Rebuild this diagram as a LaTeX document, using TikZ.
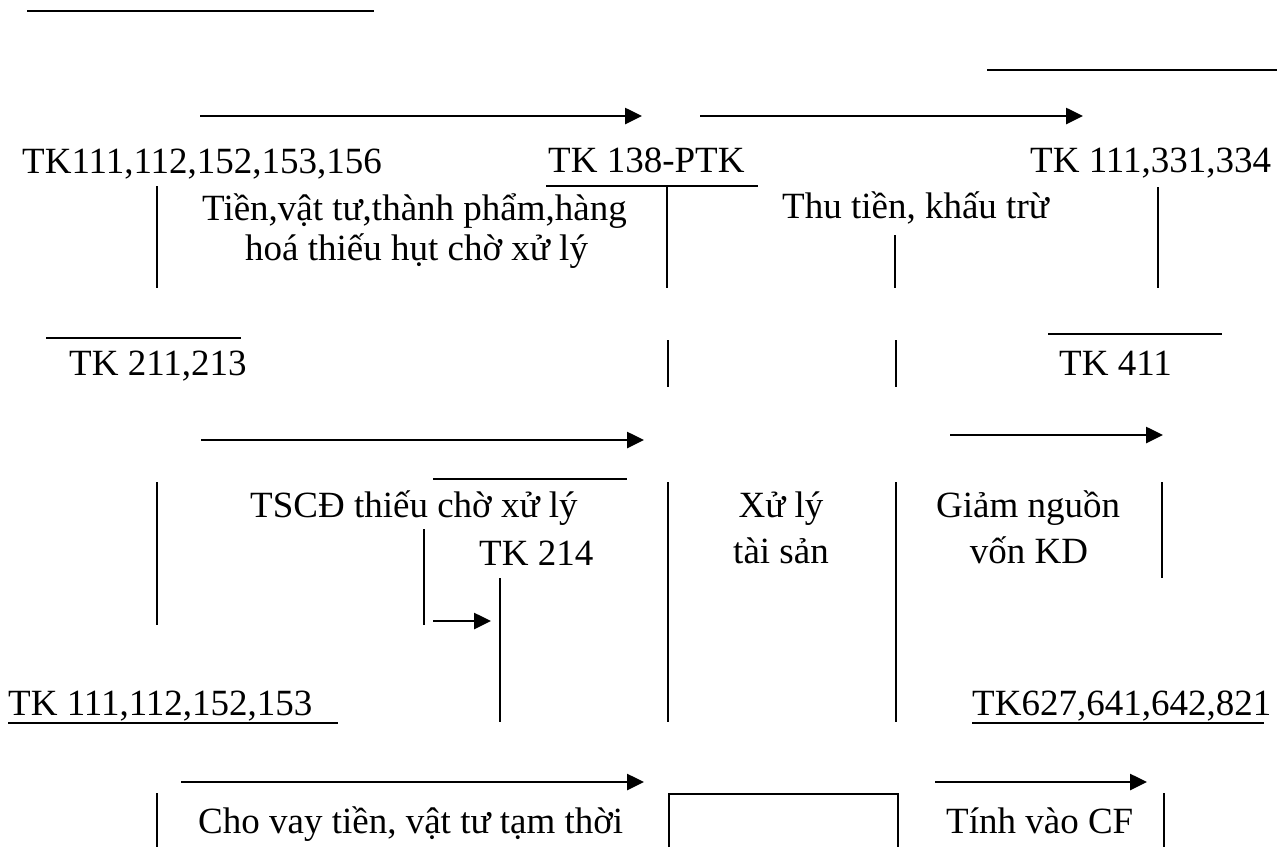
\documentclass[tikz,border=0pt]{standalone}
\usepackage{fontspec}
\setmainfont{Liberation Serif}
\usetikzlibrary{arrows.meta}
\begin{document}
\begin{tikzpicture}[x=1pt,y=-1pt,
  ln/.style={line width=2.6pt},
  arr/.style={line width=2.6pt,-{Triangle[length=17pt,width=16pt]}},
  lbl/.style={inner sep=0pt,anchor=base west,font=\fontsize{37}{44}\selectfont},
  lblc/.style={inner sep=0pt,anchor=base,font=\fontsize{37}{44}\selectfont}]
\useasboundingbox (0,0) rectangle (1285,847);

% ---- texts
\node[lbl] (t1) at (22,173) {TK111,112,152,153,156};
\node[lbl] (t138) at (548,172) {TK 138-PTK};
\node[lbl] (t111b) at (1030,172) {TK 111,331,334};
\node[lbl] (d1a) at (202,220) {Tiền,vật tư,thành phẩm,hàng};
\node[lbl] (d1b) at (245,260) {hoá thiếu hụt chờ xử lý};
\node[lbl] (d2) at (782,218) {Thu tiền, khấu trừ};
\node[lbl] (t211) at (69,375) {TK 211,213};
\node[lbl] (t411) at (1059,375) {TK 411};
\node[lbl] (d3) at (250,517) {TSCĐ thiếu chờ xử lý};
\node[lbl] (t214) at (479,565) {TK 214};
\node[lblc] (d4a) at (781,517) {Xử lý};
\node[lblc] (d4b) at (781,563) {tài sản};
\node[lbl] (d5a) at (936,517) {Giảm nguồn};
\node[lblc] (d5b) at (1029,563) {vốn KD};
\node[lbl] (t111c) at (8,715) {TK 111,112,152,153};
\node[lbl] (t627) at (972,715) {TK627,641,642,821};
\node[lbl] (d6) at (198,833) {Cho vay tiền, vật tư tạm thời};
\node[lbl] (d7) at (946,833) {Tính vào CF};

% ---- coordinates for free line ends
\coordinate (a1s) at (200,116); \coordinate (a1e) at (642,116);
\coordinate (a2s) at (700,116); \coordinate (a2e) at (1083,116);
\coordinate (a3s) at (201,440); \coordinate (a3e) at (644,440);
\coordinate (a4s) at (950,435); \coordinate (a4e) at (1163,435);
\coordinate (a5s) at (433,621); \coordinate (a5e) at (491,621);
\coordinate (a6s) at (181,782); \coordinate (a6e) at (644,782);
\coordinate (a7s) at (935,782); \coordinate (a7e) at (1147,782);

% ---- arrows
\draw[arr] (a1s) -- (a1e);
\draw[arr] (a2s) -- (a2e);
\draw[arr] (a3s) -- (a3e);
\draw[arr] (a4s) -- (a4e);
\draw[arr] (a5s) -- (a5e);
\draw[arr] (a6s) -- (a6e);
\draw[arr] (a7s) -- (a7e);

% ---- plain lines
\draw[ln] (27,11) -- (374,11);
\draw[ln] (987,70) -- (1277,70);
\draw[ln] (546,186) -- (758,186);
\draw[ln] (157,186) -- (157,288);
\draw[ln] (667,186) -- (667,288);
\draw[ln] (895,235) -- (895,288);
\draw[ln] (1158,187) -- (1158,288);
\draw[ln] (46,338) -- (241,338);
\draw[ln] (668,340) -- (668,387);
\draw[ln] (896,340) -- (896,387);
\draw[ln] (1048,334) -- (1222,334);
\draw[ln] (157,482) -- (157,625);
\draw[ln] (433,479) -- (627,479);
\draw[ln] (424,529) -- (424,625);
\draw[ln] (500,578) -- (500,722);
\draw[ln] (668,482) -- (668,722);
\draw[ln] (896,482) -- (896,722);
\draw[ln] (1162,482) -- (1162,578);
\draw[ln] (8,723) -- (338,723);
\draw[ln] (972,723) -- (1264,723);
\draw[ln] (157,793) -- (157,847);
\draw[ln] (669,847) -- (669,794) -- (898,794) -- (898,847);
\draw[ln] (1164,793) -- (1164,847);
\end{tikzpicture}
\end{document}
